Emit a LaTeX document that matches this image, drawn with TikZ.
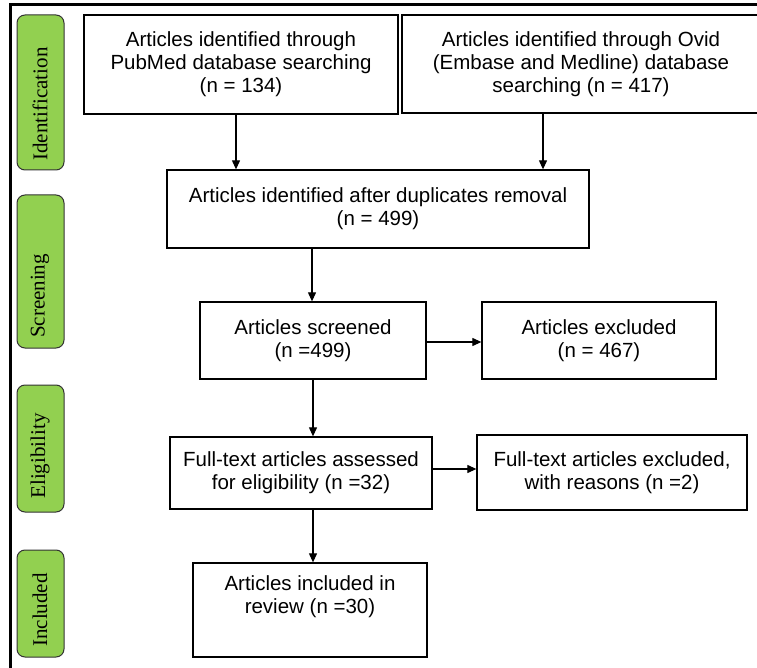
\documentclass[tikz,border=0pt]{standalone}
\usepackage{fontspec}
\setmainfont{Liberation Sans}
\newfontfamily\sidefont{Liberation Serif}
\usetikzlibrary{arrows.meta}
\definecolor{sidegreen}{HTML}{92D050}
\begin{document}
\begin{tikzpicture}[x=1pt,y=-1pt,
  box/.style={draw=black, line width=1.3pt, align=center, inner sep=0pt, font=\fontsize{20.5}{23}\selectfont},
  side/.style={draw=black!80, fill=sidegreen, rounded corners=8pt, line width=1pt, minimum width=47pt, inner sep=0pt},
  sidetext/.style={rotate=90, font=\sidefont\fontsize{21}{24}\selectfont, inner sep=0pt},
  arr/.style={line width=1.1pt, -{Triangle[length=9pt,width=8pt]}}]
\useasboundingbox (0,0) rectangle (757,668);
\clip (0,0) rectangle (757,668);
\fill[white] (0,0) rectangle (757,668);
% frame
\draw[line width=3pt, line join=miter] (10,670) -- (10,5) -- (760,5);
% side labels
\node[side, minimum height=155pt] (s1) at (40.5,92.5) {};
\node[side, minimum height=153pt] (s2) at (40.5,271.5) {};
\node[side, minimum height=127pt] (s3) at (40.5,448.5) {};
\node[side, minimum height=107pt] (s4) at (40.5,603.5) {};
\node[sidetext] (t1) at (40,104) {Identification};
\node[sidetext] (t2) at (40,296) {Screening};
\node[sidetext] (t3) at (40,456) {Eligibility};
\node[sidetext] (t4) at (40,610) {Included};
% boxes
\node[box, minimum width=314pt, minimum height=99pt] (pub) at (241,64.5) {Articles identified through\\PubMed database searching\\(n = 134)};
\node[box, minimum width=358pt, minimum height=98pt] (ovid) at (581,64) {Articles identified through Ovid\\(Embase and Medline) database\\searching (n = 417)};
\node[box, minimum width=422pt, minimum height=78pt] (dup) at (378,209) {Articles identified after duplicates removal\\(n = 499)};
\node[box, minimum width=226pt, minimum height=77pt] (scr) at (313,340.5) {Articles screened\\(n =499)};
\node[box, minimum width=234pt, minimum height=77pt] (exc) at (599,340.5) {Articles excluded\\(n = 467)};
\node[box, minimum width=262pt, minimum height=72pt] (ass) at (301,473) {Full-text articles assessed\\for eligibility (n =32)};
\node[box, minimum width=270pt, minimum height=75pt] (fte) at (612,472.5) {Full-text articles excluded,\\with reasons (n =2)};
\node[box, minimum width=234pt, minimum height=94pt] (inc) at (310,610) {Articles included in\\review (n =30)\\\strut};
% arrow positions
\coordinate (xa) at (236,0);
\coordinate (xb) at (543,0);
\coordinate (xc) at (312,0);
\coordinate (xd) at (313,0);
\coordinate (ya) at (0,342);
\coordinate (yb) at (0,469);
% arrows
\draw[arr] (pub.south -| xa) -- (dup.north -| xa);
\draw[arr] (ovid.south -| xb) -- (dup.north -| xb);
\draw[arr] (dup.south -| xc) -- (scr.north -| xc);
\draw[arr] (scr.east |- ya) -- (exc.west |- ya);
\draw[arr] (scr.south -| xd) -- (ass.north -| xd);
\draw[arr] (ass.east |- yb) -- (fte.west |- yb);
\draw[arr] (ass.south -| xd) -- (inc.north -| xd);
\end{tikzpicture}
\end{document}
